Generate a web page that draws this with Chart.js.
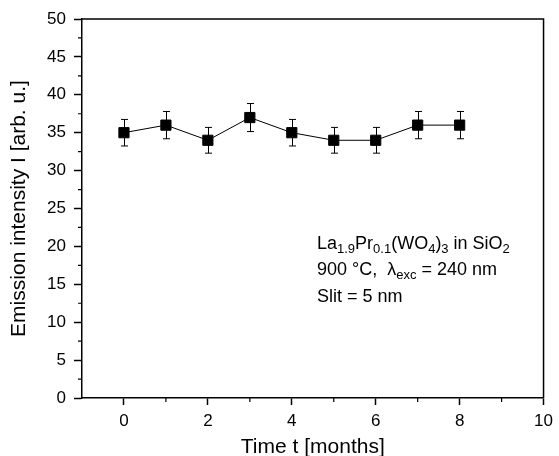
<!DOCTYPE html>
<html>
<head>
<meta charset="utf-8">
<script src="https://cdn.jsdelivr.net/npm/chart.js@4.4.1/dist/chart.umd.min.js"></script>
<style>
  html, body { margin: 0; padding: 0; background: #fff; }
  #wrap { width: 559px; height: 456px; position: relative; }
</style>
</head>
<body>
<div id="wrap"><canvas id="c"></canvas></div>
<script>
const months = [0, 1, 2, 3, 4, 5, 6, 7, 8];
const intensity = [35, 36, 34, 37, 35, 34, 34, 36, 36];
const errors = [1.75, 1.8, 1.7, 1.85, 1.75, 1.7, 1.7, 1.8, 1.8];
const xTicks = [0, 2, 4, 6, 8, 10];
const yTicks = [0, 5, 10, 15, 20, 25, 30, 35, 40, 45, 50];
const xMinorTicks = [1, 3, 5, 7, 9];
const yMinorTicks = [2.5, 7.5, 12.5, 17.5, 22.5, 27.5, 32.5, 37.5, 42.5, 47.5];

const FONT = "'Liberation Sans', Arial, sans-serif";

const errorBarPlugin = {
  id: 'errorBars',
  afterDatasetsDraw(chart) {
    const ctx = chart.ctx;
    const xs = chart.scales.x, ys = chart.scales.y;
    ctx.save();
    ctx.strokeStyle = '#000';
    ctx.lineWidth = 1;
    months.forEach((m, i) => {
      const px = Math.round(xs.getPixelForValue(m)) + 0.5;
      const yt = ys.getPixelForValue(intensity[i] + errors[i]);
      const yb = ys.getPixelForValue(intensity[i] - errors[i]);
      ctx.beginPath();
      ctx.moveTo(px, yt); ctx.lineTo(px, yb);
      ctx.moveTo(px - 3.5, yt); ctx.lineTo(px + 3.5, yt);
      ctx.moveTo(px - 3.5, yb); ctx.lineTo(px + 3.5, yb);
      ctx.stroke();
    });
    ctx.restore();
  }
};

const framePlugin = {
  id: 'frame',
  afterDraw(chart) {
    const ctx = chart.ctx;
    const a = chart.chartArea;
    const xs = chart.scales.x, ys = chart.scales.y;
    ctx.save();
    ctx.strokeStyle = '#000';
    ctx.lineWidth = 1.5;
    ctx.beginPath();
    ctx.moveTo(a.left, a.top); ctx.lineTo(a.right, a.top); ctx.lineTo(a.right, a.bottom);
    ctx.stroke();
    // minor ticks
    ctx.lineWidth = 1.2;
    ctx.beginPath();
    xMinorTicks.forEach(v => {
      const px = xs.getPixelForValue(v);
      ctx.moveTo(px, a.bottom); ctx.lineTo(px, a.bottom + 4);
    });
    yMinorTicks.forEach(v => {
      const py = ys.getPixelForValue(v);
      ctx.moveTo(a.left, py); ctx.lineTo(a.left - 4, py);
    });
    ctx.stroke();

    // annotation text
    ctx.fillStyle = '#000';
    ctx.textBaseline = 'alphabetic';
    ctx.textAlign = 'left';
    const big = "18px " + FONT, small = "13px " + FONT;
    function run(parts, x, y) {
      parts.forEach(p => {
        ctx.font = p[1] ? small : big;
        const dy = p[1] === 'sub' ? 4 : 0;
        ctx.fillText(p[0], x, y + dy);
        x += ctx.measureText(p[0]).width;
      });
    }
    const tx = 317;
    run([['La'], ['1.9', 'sub'], ['Pr'], ['0.1', 'sub'], ['(WO'], ['4', 'sub'], [')'], ['3', 'sub'], [' in SiO'], ['2', 'sub']], tx, 249);
    run([['900 \u00B0C,  \u03BB'], ['exc', 'sub'], [' = 240 nm']], tx, 275);
    run([['Slit = 5 nm']], tx, 302);
    ctx.restore();
  }
};

new Chart(document.getElementById('c'), {
  type: 'line',
  data: {
    datasets: [{
      data: months.map((m, i) => ({ x: m, y: intensity[i] })),
      borderColor: '#000',
      borderWidth: 1,
      backgroundColor: '#000',
      pointStyle: 'rect',
      pointRadius: 7.2,
      pointBorderWidth: 1,
      pointBackgroundColor: '#000',
      pointBorderColor: '#000',
      tension: 0
    }]
  },
  options: {
    responsive: true,
    maintainAspectRatio: false,
    animation: false,
    devicePixelRatio: 1,
    layout: { padding: { top: 19, right: 10, left: 0, bottom: 0 } },
    plugins: { legend: { display: false }, tooltip: { enabled: false } },
    scales: {
      x: {
        type: 'linear',
        min: -1, max: 10,
        afterBuildTicks(s) { s.ticks = xTicks.map(v => ({ value: v })); },
        afterFit(s) { s.height = 58; },
        grid: { drawOnChartArea: false, drawTicks: true, tickLength: 7, tickWidth: 1.5, tickColor: '#000' },
        border: { display: true, color: '#000', width: 1.5 },
        ticks: { color: '#000', font: { family: FONT, size: 17 }, padding: 6, maxRotation: 0, autoSkip: false },
        title: { display: true, text: 'Time t [months]', color: '#000', font: { family: FONT, size: 21, lineHeight: 0.8 }, padding: 0 }
      },
      y: {
        type: 'linear',
        min: 0, max: 50,
        afterBuildTicks(s) { s.ticks = yTicks.map(v => ({ value: v })); },
        afterFit(s) { s.width = 82; },
        grid: { drawOnChartArea: false, drawTicks: true, tickLength: 8, tickWidth: 1.5, tickColor: '#000' },
        border: { display: true, color: '#000', width: 1.5 },
        ticks: { color: '#000', font: { family: FONT, size: 17 }, padding: 8, autoSkip: false },
        title: { display: true, text: 'Emission intensity I [arb. u.]', color: '#000', font: { family: FONT, size: 21, lineHeight: 1.2 }, padding: { top: 7, bottom: 0 } }
      }
    }
  },
  plugins: [errorBarPlugin, framePlugin]
});
</script>
</body>
</html>
